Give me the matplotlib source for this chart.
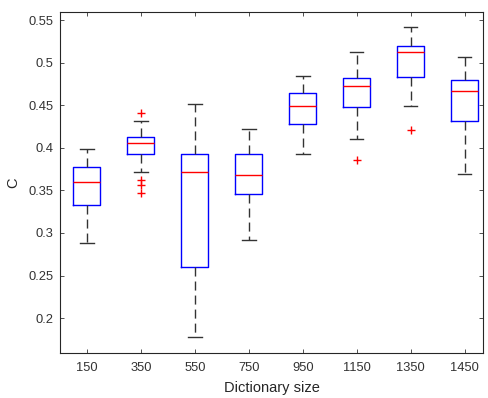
import matplotlib
matplotlib.use("Agg")
import matplotlib.pyplot as plt

categories = ["150", "350", "550", "750", "950", "1150", "1350", "1450"]
whislo = [0.2886, 0.3716, 0.1775, 0.2921, 0.3930, 0.4100, 0.4494, 0.3692]
q1 = [0.3328, 0.3927, 0.2600, 0.3457, 0.4283, 0.4475, 0.4834, 0.4318]
med = [0.3602, 0.4060, 0.3716, 0.3680, 0.4487, 0.4722, 0.5124, 0.4666]
q3 = [0.3778, 0.4123, 0.3923, 0.3923, 0.4647, 0.4823, 0.5195, 0.4796]
whishi = [0.3986, 0.4314, 0.4514, 0.4220, 0.4839, 0.5121, 0.5414, 0.5069]
fliers = [[], [0.4412, 0.3622, 0.3559, 0.3465], [], [], [], [0.3853], [0.4205], []]

plt.rcParams['font.family'] = ['Liberation Sans', 'DejaVu Sans']
fig = plt.figure(figsize=(4.88, 3.98), dpi=100)
ax = fig.add_axes([60/488, 45/398, 423/488, 341/398])

stats = []
for i, c in enumerate(categories):
    stats.append(dict(label=c, whislo=whislo[i], q1=q1[i], med=med[i], q3=q3[i],
                      whishi=whishi[i], fliers=fliers[i]))

ax.bxp(stats, positions=range(1, len(categories) + 1), widths=0.5,
       boxprops=dict(color=(0, 0, 1), linewidth=1.0),
       medianprops=dict(color=(1, 0, 0), linewidth=1.0),
       whiskerprops=dict(color='#333333', linestyle=(0, (6.5, 3.6)), linewidth=1.0),
       capprops=dict(color='#333333', linewidth=1.0),
       capwidths=0.25,
       flierprops=dict(marker='+', markeredgecolor='red', markersize=6, linestyle='none'))

ax.set_xlim(0.5, 8.34)
ax.set_ylim(0.159, 0.5595)
ax.set_yticks([0.2, 0.25, 0.3, 0.35, 0.4, 0.45, 0.5, 0.55])
ax.set_yticklabels(["0.2", "0.25", "0.3", "0.35", "0.4", "0.45", "0.5", "0.55"])
ax.set_xticks(range(1, len(categories) + 1))
ax.set_xticklabels(categories)
ax.tick_params(direction='in', top=True, right=True, labelsize=9.3, colors='#333333',
               length=3, width=0.6)
ax.tick_params(axis='x', pad=6.5)
ax.tick_params(axis='y', pad=4.5)
for s in ax.spines.values():
    s.set_color('#262626')
    s.set_linewidth(0.8)
ax.set_xlabel("Dictionary size", fontsize=10.5, color='#262626', labelpad=5)
ax.set_ylabel("C", fontsize=10.5, color='#262626', labelpad=6)

fig.savefig("out.png", dpi=100)
